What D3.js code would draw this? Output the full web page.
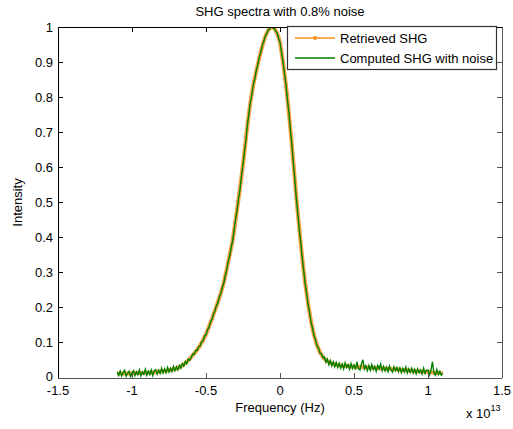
<!DOCTYPE html>
<html>
<head>
<meta charset="utf-8">
<script src="https://cdn.jsdelivr.net/npm/d3@7"></script>
<style>
  body { margin: 0; background: #fff; }
  text { font-family: "Liberation Sans", Arial, sans-serif; fill: #000; }
</style>
</head>
<body>
<script>
// SHG spectra - retrieved vs computed with noise
var titleText = "SHG spectra with 0.8% noise";
var xTicks = [-1.5, -1, -0.5, 0, 0.5, 1, 1.5];  // x 10^13 Hz
var yTicks = [0, 0.1, 0.2, 0.3, 0.4, 0.5, 0.6, 0.7, 0.8, 0.9, 1];
var legendNames = ["Retrieved SHG", "Computed SHG with noise"];

// retrieved SHG, sampled every 0.02e13 Hz from -1.10e13
var retrievedStart = -1.10, retrievedStep = 0.02;
var retrieved = [
  .013, .013, .013, .013, .013, .013, .014, .014, .014, .015,
  .015, .016, .016, .017, .018, .019, .020, .021, .023, .025,
  .027, .031, .036, .042, .050, .060, .070, .080, .093, .108,
  .125, .146, .168, .192, .216, .242, .272, .310, .350, .393,
  .450, .510, .575, .645, .720, .785, .835, .875, .912, .945,
  .972, .990, 1.000, .996, .982, .955, .900, .835, .755, .665,
  .565, .470, .385, .305, .240, .185, .140, .107, .083, .066,
  .055, .048, .043, .040, .038, .036, .035, .034, .034, .033,
  .032, .032, .031, .031, .030, .030, .029, .029, .028, .028,
  .027, .026, .026, .025, .025, .024, .023, .022, .022, .021,
  .020, .019, .019, .018, .018, .017, .016, .015, .014, .014,
  .013
];

// computed SHG with noise, sampled every 0.01e13 Hz from -1.10e13
var noisyStart = -1.10, noisyStep = 0.01;
var noisy = [
  .017, .007, .020, .006, .016, .022, .005, .013, .019, .004,
  .015, .021, .007, .018, .009, .023, .006, .017, .011, .025,
  .008, .019, .010, .023, .007, .021, .024, .011, .022, .013,
  .028, .014, .026, .015, .030, .017, .028, .018, .033, .021,
  .032, .023, .036, .028, .041, .034, .047, .041, .054, .050,
  .058, .068, .067, .079, .078, .089, .091, .103, .106, .119,
  .123, .137, .144, .159, .166, .182, .190, .206, .214, .231,
  .240, .258, .270, .292, .308, .332, .348, .372, .391, .422,
  .452, .478, .512, .538, .577, .608, .647, .678, .722, .753,
  .787, .808, .837, .853, .877, .893, .914, .928, .947, .958,
  .974, .980, .992, .994, 1.002, .997, .998, .988, .984, .968,
  .957, .928, .902, .868, .837, .793, .757, .708, .667, .613,
  .567, .513, .472, .423, .387, .343, .307, .268, .242, .208,
  .187, .158, .142, .120, .110, .091, .086, .071, .069, .057,
  .060, .045, .054, .038, .050, .035, .046, .032, .044, .030,
  .042, .028, .040, .026, .043, .030, .038, .025, .041, .027,
  .037, .024, .046, .027, .023, .039, .052, .026, .035, .021,
  .035, .022, .038, .024, .033, .019, .036, .026, .040, .021,
  .033, .020, .031, .018, .034, .023, .017, .032, .021, .030,
  .018, .029, .015, .027, .017, .031, .014, .026, .016, .028,
  .014, .025, .012, .026, .015, .023, .011, .028, .013, .022,
  .023, .009, .022, .046, .015, .008, .024, .010, .019, .008,
  .013
];

var width = 513, height = 429;
var margin = { left: 58, right: 11, top: 27, bottom: 51 };
var orange = "#f7901e";
var green = "#008000";

var svg = d3.select("body").append("svg")
  .attr("width", width)
  .attr("height", height);

svg.append("rect").attr("width", width).attr("height", height).attr("fill", "#fff");

var x = d3.scaleLinear().domain([-1.5, 1.5]).range([margin.left, width - margin.right]);
var y = d3.scaleLinear().domain([0, 1]).range([height - margin.bottom, margin.top]);

svg.append("clipPath").attr("id", "clip")
  .append("rect")
  .attr("x", x(-1.5)).attr("y", y(1))
  .attr("width", x(1.5) - x(-1.5)).attr("height", y(0) - y(1));

var plot = svg.append("g").attr("clip-path", "url(#clip)");

var retrievedLine = d3.line()
  .x(function (d, i) { return x(retrievedStart + i * retrievedStep); })
  .y(function (d) { return y(d); })
  .curve(d3.curveMonotoneX);

var noisyLine = d3.line()
  .x(function (d, i) { return x(noisyStart + i * noisyStep); })
  .y(function (d) { return y(d); });

plot.append("path")  // thick orange band (line + dense dot markers)
  .datum(retrieved)
  .attr("d", retrievedLine)
  .attr("fill", "none")
  .attr("stroke", orange)
  .attr("stroke-width", 4)
  .attr("stroke-opacity", 0.85);

plot.append("path")
  .datum(noisy)
  .attr("d", noisyLine)
  .attr("fill", "none")
  .attr("stroke", green)
  .attr("stroke-width", 1.4);

// axes with inward ticks, box on
var axes = svg.append("g").attr("shape-rendering", "crispEdges");
var tickLen = 5;
xTicks.forEach(function (t) {
  axes.append("line").attr("x1", x(t)).attr("x2", x(t))
    .attr("y1", y(0)).attr("y2", y(0) - tickLen).attr("stroke", "#555");
  axes.append("line").attr("x1", x(t)).attr("x2", x(t))
    .attr("y1", y(1)).attr("y2", y(1) + tickLen).attr("stroke", "#000");
  svg.append("text")
    .attr("x", x(t)).attr("y", y(0) + 17)
    .attr("text-anchor", "middle")
    .attr("font-size", 13)
    .text(t);
});
yTicks.forEach(function (t) {
  axes.append("line").attr("x1", x(-1.5)).attr("x2", x(-1.5) + tickLen)
    .attr("y1", y(t)).attr("y2", y(t)).attr("stroke", "#000");
  axes.append("line").attr("x1", x(1.5)).attr("x2", x(1.5) - tickLen)
    .attr("y1", y(t)).attr("y2", y(t)).attr("stroke", "#555");
  svg.append("text")
    .attr("x", x(-1.5) - 5).attr("y", y(t) + (t === 0 ? 3 : 4.5))
    .attr("text-anchor", "end")
    .attr("font-size", 13)
    .text(t);
});
axes.append("line").attr("x1", x(-1.5)).attr("x2", x(1.5)).attr("y1", y(1)).attr("y2", y(1)).attr("stroke", "#000");
axes.append("line").attr("x1", x(-1.5)).attr("x2", x(-1.5)).attr("y1", y(0)).attr("y2", y(1)).attr("stroke", "#000");
axes.append("line").attr("x1", x(-1.5)).attr("x2", x(1.5)).attr("y1", y(0)).attr("y2", y(0)).attr("stroke", "#555");
axes.append("line").attr("x1", x(1.5)).attr("x2", x(1.5)).attr("y1", y(0)).attr("y2", y(1)).attr("stroke", "#555");

// labels
svg.append("text")
  .attr("x", (x(-1.5) + x(1.5)) / 2).attr("y", 16)
  .attr("text-anchor", "middle").attr("font-size", 13)
  .text(titleText);
svg.append("text")
  .attr("x", (x(-1.5) + x(1.5)) / 2).attr("y", 412)
  .attr("text-anchor", "middle").attr("font-size", 13)
  .text("Frequency (Hz)");
svg.append("text")
  .attr("transform", "translate(22," + (y(0.5)) + ") rotate(-90)")
  .attr("text-anchor", "middle").attr("font-size", 13)
  .text("Intensity");
var expo = svg.append("text").attr("x", 466).attr("y", 418).attr("font-size", 13);
expo.append("tspan").text("x 10");
expo.append("tspan").attr("font-size", 9).attr("dy", -7).text("13");

// legend
var legend = svg.append("g");
legend.append("rect")
  .attr("x", 287.5).attr("y", 26.5).attr("width", 209).attr("height", 43)
  .attr("fill", "#fff").attr("stroke", "#333").attr("stroke-width", 1.2);
var entryY = [38, 58];
legend.append("line").attr("x1", 295).attr("x2", 335).attr("y1", entryY[0]).attr("y2", entryY[0])
  .attr("stroke", orange).attr("stroke-width", 1.3);
legend.append("circle").attr("cx", 315).attr("cy", entryY[0]).attr("r", 2).attr("fill", orange);
legend.append("line").attr("x1", 295).attr("x2", 335).attr("y1", entryY[1]).attr("y2", entryY[1])
  .attr("stroke", green).attr("stroke-width", 1.3);
legendNames.forEach(function (n, i) {
  legend.append("text")
    .attr("x", 340).attr("y", entryY[i] + 4.5)
    .attr("font-size", 13)
    .text(n);
});
</script>
</body>
</html>
